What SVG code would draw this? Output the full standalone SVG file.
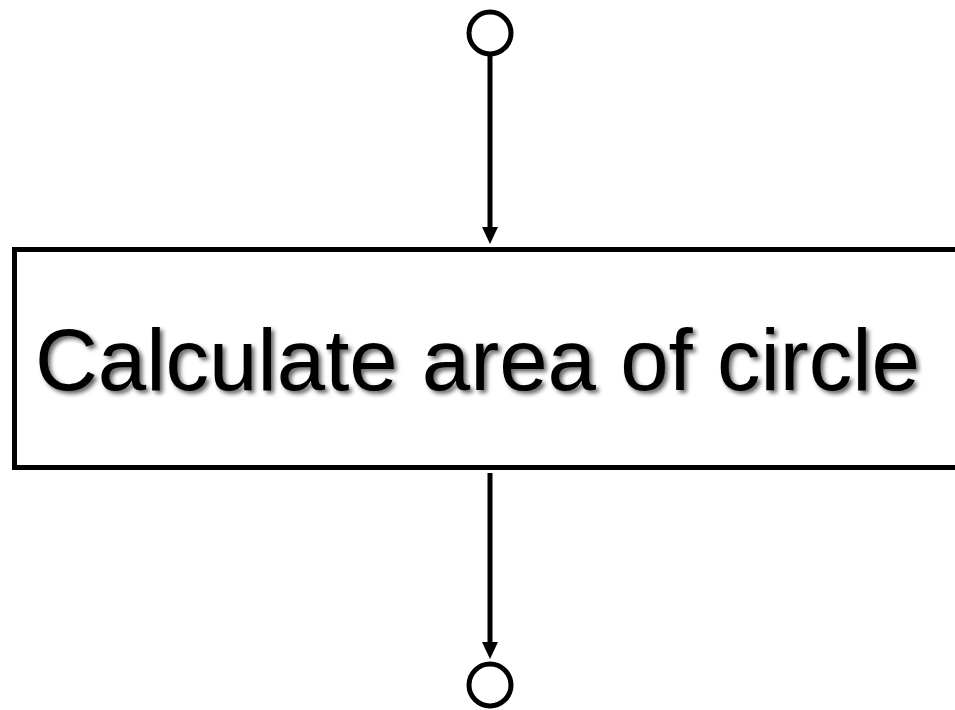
<svg xmlns="http://www.w3.org/2000/svg" width="955" height="710" viewBox="0 0 955 710">
<defs>
<style>
.term{fill:#fff;stroke:#000;stroke-width:5}
.conn{stroke:#000;stroke-width:5;fill:none}
.head{fill:#000;stroke:none}
.box{fill:#fff;stroke:#000;stroke-width:5}
.lbl{font-family:"Liberation Sans",Arial,sans-serif;font-size:87px;fill:#000}
</style>
<filter id="sh" x="-5%" y="-20%" width="110%" height="140%">
<feDropShadow dx="3" dy="3" stdDeviation="2" flood-color="#000" flood-opacity="0.6"/>
</filter>
</defs>
<g id="connectors">
<line class="conn" x1="490" y1="56" x2="490" y2="230"/>
<path class="head" d="M482,227 L498,227 L490,244 Z"/>
<line class="conn" x1="490" y1="473" x2="490" y2="645"/>
<path class="head" d="M482,642 L498,642 L490,659 Z"/>
</g>
<g id="start">
<circle class="term" cx="490" cy="33" r="21"/>
</g>
<g id="process">
<rect class="box" x="14.5" y="249.5" width="960" height="218"/>
<text class="lbl" x="35" y="390" filter="url(#sh)">Calculate area of circle</text>
</g>
<g id="end">
<circle class="term" cx="490" cy="685" r="21"/>
</g>
</svg>
